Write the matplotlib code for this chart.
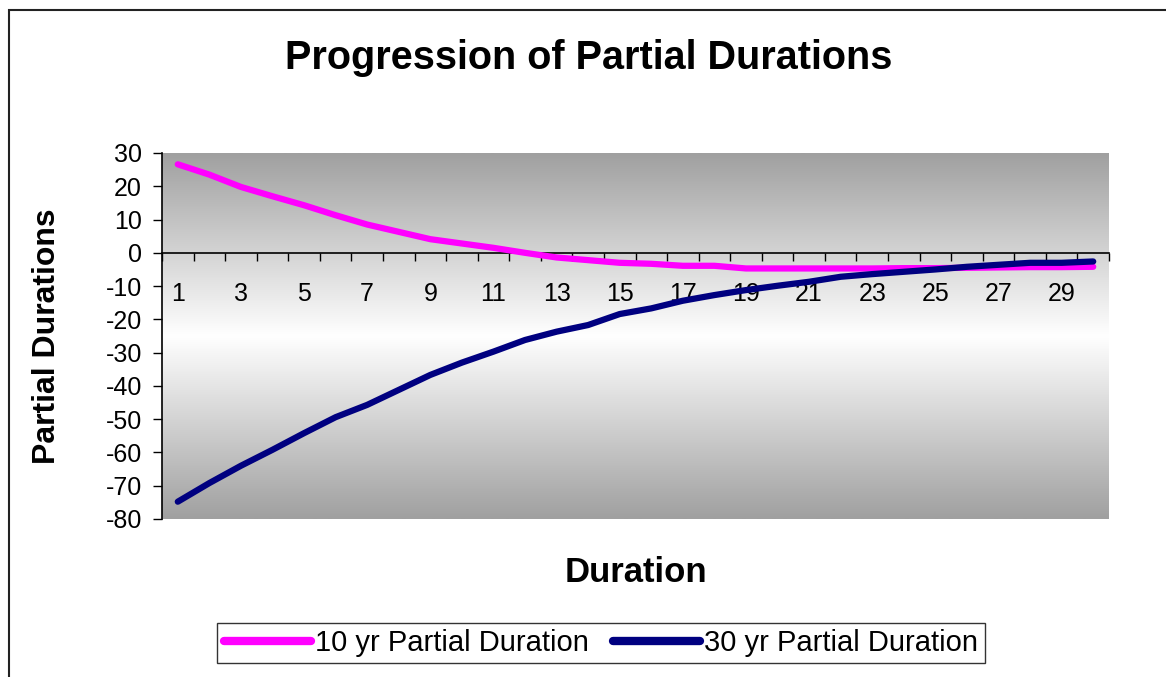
import numpy as np
import matplotlib
matplotlib.use('Agg')
import matplotlib.pyplot as plt
from matplotlib.patches import Rectangle

plt.rcParams['font.family'] = ['Liberation Sans', 'DejaVu Sans']
plt.rcParams['axes.unicode_minus'] = False

# data
durations = list(range(1, 31))
ten_yr = [26.6, 23.5, 19.8, 17.0, 14.3, 11.3, 8.5, 6.3, 4.1, 2.8,
          1.5, 0.0, -1.4, -2.2, -3.0, -3.3, -3.9, -3.9, -4.7, -4.7,
          -4.7, -4.7, -4.7, -4.6, -4.6, -4.5, -4.4, -4.3, -4.3, -4.2]
thirty_yr = [-74.8, -69.2, -64.0, -59.2, -54.2, -49.4, -45.7, -41.2, -36.7, -33.0,
             -29.7, -26.2, -23.7, -21.7, -18.4, -16.7, -14.4, -12.7, -11.2, -9.9,
             -8.7, -7.2, -6.4, -5.7, -5.0, -4.2, -3.6, -3.0, -3.0, -2.6]
y_ticks = list(range(-80, 31, 10))
x_labels = list(range(1, 30, 2))

fig = plt.figure(figsize=(11.66, 6.77), dpi=100)
ax = fig.add_axes([162/1166, 1 - 519/677, 947/1166, 366/677])

# gray -> white -> gray background like the excel plot area
g = np.abs(np.linspace(-1, 1, 256))
gray = 1 - g * (95/255)
img = np.dstack([gray, gray, gray])[0][:, None, :]
ax.imshow(img, extent=[0.5, 30.5, -80, 30], aspect='auto', zorder=0,
          interpolation='bilinear')

ax.plot(durations, ten_yr, color='#ff00ff', lw=4.5, solid_capstyle='round',
        label='10 yr Partial Duration', zorder=3)
ax.plot(durations, thirty_yr, color='#000080', lw=4.5, solid_capstyle='round',
        label='30 yr Partial Duration', zorder=4)

ax.set_xlim(0.5, 30.5)
ax.set_ylim(-80, 30)

for s in ['top', 'right']:
    ax.spines[s].set_visible(False)
ax.spines['bottom'].set_position(('data', 0))
ax.spines['bottom'].set_linewidth(1.2)
ax.spines['left'].set_linewidth(1.2)
ax.spines['bottom'].set_zorder(2)

ax.set_yticks(y_ticks)
ax.tick_params(axis='y', direction='out', length=6.5, width=1, pad=8, labelsize=18)

ax.set_xticks(np.arange(0.5, 31, 1))
ax.set_xticklabels([])
ax.set_xticks(x_labels, minor=True)
ax.set_xticklabels([str(v) for v in x_labels], minor=True)
ax.tick_params(axis='x', which='major', direction='out', length=6, width=1)
ax.tick_params(axis='x', which='minor', length=0, pad=21, labelsize=18)

ax.set_ylabel('Partial Durations', fontsize=23, fontweight='bold')
ax.yaxis.set_label_coords(-0.1056, 0.5)
ax.set_xlabel('Duration', fontsize=25, fontweight='bold', va='center')
ax.xaxis.set_label_coords(0.5, -0.1475)

fig.text(589/1166, 1 - 58/677, 'Progression of Partial Durations',
         ha='center', va='center', fontsize=28.5, fontweight='bold')

leg = fig.legend(loc='center', bbox_to_anchor=(601/1166, 1 - 643/677), ncol=2,
                 fontsize=21, frameon=True, fancybox=False, handlelength=3.0,
                 handletextpad=0.15, columnspacing=0.8, borderpad=0.22,
                 borderaxespad=0)
leg.get_frame().set_edgecolor('black')
leg.get_frame().set_linewidth(1.0)
for h in leg.get_lines():
    h.set_linewidth(6)

fig.add_artist(Rectangle((9/1166, -0.1), 2, 1 - 10/677 + 0.1,
                         transform=fig.transFigure, fill=False,
                         lw=1.5, edgecolor='#222222'))

fig.savefig('out.png', dpi=100, facecolor='white')
